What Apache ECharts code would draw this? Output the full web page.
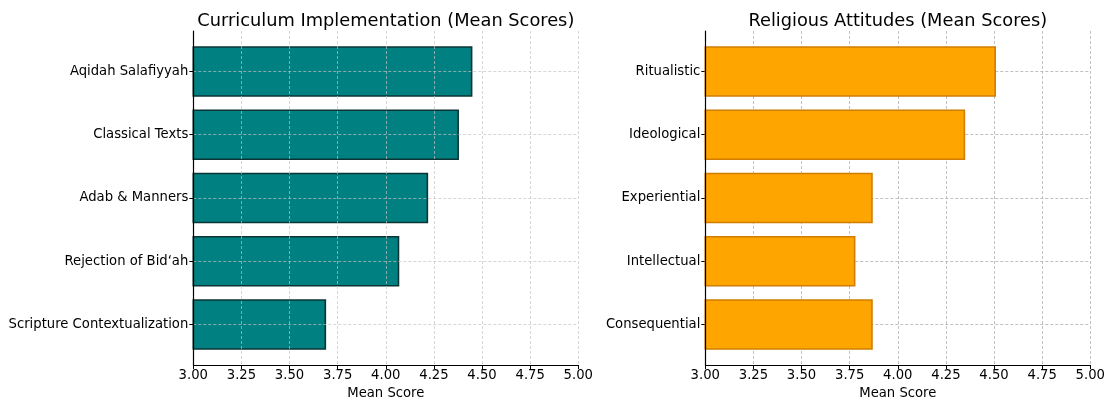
<!DOCTYPE html>
<html>
<head>
<meta charset="utf-8">
<script src="https://cdn.jsdelivr.net/npm/echarts@6/dist/echarts.min.js"></script>
<style>html,body{margin:0;padding:0;background:#fff}#c{width:1116px;height:402px}</style>
</head>
<body>
<div id="c"></div>
<script>
const curriculumCategories = ['Aqidah Salafiyyah', 'Classical Texts', 'Adab & Manners', 'Rejection of Bid\u2018ah', 'Scripture Contextualization'];
const curriculumValues = [4.45, 4.38, 4.22, 4.07, 3.69];
const attitudeCategories = ['Ritualistic', 'Ideological', 'Experiential', 'Intellectual', 'Consequential'];
const attitudeValues = [4.51, 4.35, 3.87, 3.78, 3.87];
const xTicks = ['3.00', '3.25', '3.50', '3.75', '4.00', '4.25', '4.50', '4.75', '5.00'];
const titles = ['Curriculum Implementation (Mean Scores)', 'Religious Attitudes (Mean Scores)'];
const xName = 'Mean Score';

const FONT = 'DejaVu Sans';
const xMin = parseFloat(xTicks[0]), xMax = parseFloat(xTicks[xTicks.length - 1]);
const xStep = parseFloat(xTicks[1]) - xMin;

// frame geometry (matplotlib-like: y range -0.64 .. 4.64)
const plotTop = 31, plotH = 334, plotW = 385;
const lefts = [193.3, 705.3];
const unit = plotH / 5.28;
const bandTop = plotTop + (0.64 - 0.5) * unit;
const centerTop = plotTop + 0.64 * unit;

const grids = [], xAxes = [], yAxes = [], series = [], titleArr = [];
const panels = [
  {cats: curriculumCategories, vals: curriculumValues, color: '#008080', border: '#0b3434', gridAbove: true},
  {cats: attitudeCategories, vals: attitudeValues, color: '#FFA500', border: '#d07d00', gridAbove: false}
];

panels.forEach((p, i) => {
  const L = lefts[i];
  const g0 = grids.length;
  const gbase = {left: L, width: plotW, containLabel: false, outerBoundsMode: 'none'};
  grids.push(Object.assign({top: plotTop, height: plotH}, gbase));
  grids.push(Object.assign({top: bandTop, height: 5 * unit}, gbase));
  grids.push(Object.assign({top: centerTop, height: 4 * unit}, gbase));

  titleArr.push({text: titles[i], left: L + plotW / 2 - 5, top: 7, textAlign: 'center',
    textStyle: {fontFamily: FONT, fontSize: 17.8, fontWeight: 'normal', color: '#000'}});

  const splitStyle = {show: true, lineStyle: {type: [3, 2], color: p.gridAbove ? 'rgba(195,195,195,0.85)' : '#b0b0b0', width: 0.8}};

  xAxes.push({gridIndex: g0, type: 'value', min: xMin, max: xMax, interval: xStep, z: p.gridAbove ? 5 : 0,
    axisLine: {show: true, onZero: false, lineStyle: {color: '#000', width: 1}},
    axisTick: {show: true, inside: false, length: 4, lineStyle: {color: '#000'}},
    axisLabel: {fontFamily: FONT, fontSize: 13.2, color: '#000', margin: 4,
      formatter: v => xTicks[Math.round((v - xMin) / xStep)] || ''},
    splitLine: splitStyle,
    name: xName, nameLocation: 'middle', nameGap: 21,
    nameTextStyle: {fontFamily: FONT, fontSize: 13.2, color: '#000'}});
  yAxes.push({gridIndex: g0, type: 'value', min: 0, max: 1, z: 6,
    axisLine: {show: true, onZero: false, lineStyle: {color: '#000', width: 1.2}},
    axisTick: {show: false}, axisLabel: {show: false}, splitLine: {show: false}});

  xAxes.push({gridIndex: g0 + 1, type: 'value', min: xMin, max: xMax, show: false});
  yAxes.push({gridIndex: g0 + 1, type: 'category', data: p.cats, inverse: true, show: false});

  xAxes.push({gridIndex: g0 + 2, type: 'value', min: xMin, max: xMax, show: false});
  yAxes.push({gridIndex: g0 + 2, type: 'category', data: p.cats, inverse: true, boundaryGap: false,
    z: p.gridAbove ? 5 : 0,
    axisLine: {show: false},
    axisTick: {show: true, length: 4, lineStyle: {color: '#000'}},
    axisLabel: {fontFamily: FONT, fontSize: 13.2, color: '#000', margin: 5},
    splitLine: splitStyle});

  series.push({type: 'bar', xAxisIndex: g0 + 1, yAxisIndex: g0 + 1, data: p.vals,
    barWidth: 0.8 * unit, z: 2,
    itemStyle: {color: p.color, borderColor: p.border, borderWidth: 1.6},
    silent: true, animation: false});
});

const chart = echarts.init(document.getElementById('c'), null, {renderer: 'canvas'});
chart.setOption({
  animation: false,
  backgroundColor: '#fff',
  title: titleArr,
  grid: grids, xAxis: xAxes, yAxis: yAxes, series: series
});
</script>
</body>
</html>
